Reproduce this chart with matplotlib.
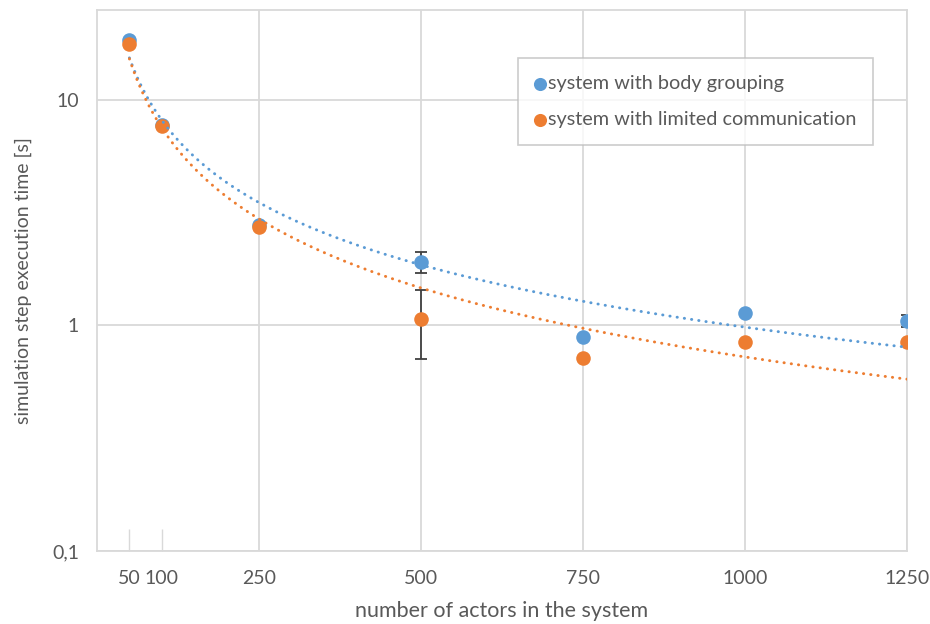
import numpy as np
import matplotlib
matplotlib.use("Agg")
import matplotlib.pyplot as plt
from matplotlib.ticker import FixedLocator, FixedFormatter, NullLocator

plt.rcParams["font.family"] = ["Lato", "DejaVu Sans"]

actors = [50, 100, 250, 500, 750, 1000, 1250]
body_grouping = [18.5, 7.75, 2.8, 1.91, 0.89, 1.14, 1.045]
limited_comm = [17.7, 7.65, 2.74, 1.07, 0.72, 0.84, 0.84]
body_err = [0, 0, 0, 0.2, 0, 0, 0.065]
limited_err = [0, 0, 0, 0.36, 0, 0, 0]

grid_ticks = [250, 500, 750, 1000, 1250]
small_ticks = [50, 100]
y_ticks = [0.1, 1, 10]
y_labels = ["0,1", "1", "10"]

blue = "#5B9BD5"
orange = "#ED7D31"
gray_text = "#595959"
grid_col = "#D9D9D9"

fig = plt.figure(figsize=(9.3, 6.24), dpi=100)
ax = fig.add_axes([97 / 930, 1 - 551 / 624, 810 / 930, 541 / 624])

x = np.array(actors, dtype=float)
for vals, err, col, name in [(body_grouping, body_err, blue, "system with body grouping"),
                             (limited_comm, limited_err, orange, "system with limited communication")]:
    y = np.array(vals)
    e = np.array(err)
    mask = e > 0
    ax.errorbar(x[mask], y[mask], yerr=e[mask], fmt="none", ecolor="#404040",
                elinewidth=1.3, capsize=4, capthick=1.3, zorder=2)
    ax.scatter(x, y, s=110, color=col, zorder=3, label=name, linewidths=0)

# power trendlines (log-log least squares, like Excel)
xs = np.linspace(50, 1250, 400)
for vals, col in [(body_grouping, blue), (limited_comm, orange)]:
    b, a = np.polyfit(np.log(actors), np.log(vals), 1)
    ax.plot(xs, np.exp(a) * xs ** b, color=col, lw=2.1,
            linestyle=(0, (0.1, 2.4)), dash_capstyle="round", zorder=4)

ax.set_yscale("log")
ax.set_ylim(0.1, 25)
ax.set_xlim(0, 1250)

ax.yaxis.set_major_locator(FixedLocator(y_ticks))
ax.yaxis.set_major_formatter(FixedFormatter(y_labels))
ax.yaxis.set_minor_locator(NullLocator())

ax.xaxis.set_major_locator(FixedLocator(grid_ticks))
ax.xaxis.set_major_formatter(FixedFormatter([str(t) for t in grid_ticks]))
ax.xaxis.set_minor_locator(FixedLocator(small_ticks))
ax.xaxis.set_minor_formatter(FixedFormatter([str(t) for t in small_ticks]))

ax.tick_params(axis="x", which="major", length=0, pad=14, labelsize=14, labelcolor=gray_text)
ax.tick_params(axis="x", which="minor", direction="in", length=16, width=1,
               color=grid_col, pad=14, labelsize=14, labelcolor=gray_text)
ax.tick_params(axis="y", length=0, pad=13, labelsize=14, labelcolor=gray_text)

ax.grid(True, which="major", color=grid_col, lw=1.3)
ax.set_axisbelow(True)
for s in ax.spines.values():
    s.set_color(grid_col)
    s.set_linewidth(1.3)

ax.set_xlabel("number of actors in the system", fontsize=15.5, color=gray_text, labelpad=10)
ax.set_ylabel("simulation step execution time [s]", fontsize=14, color=gray_text, labelpad=14)

leg = ax.legend(loc="upper right", bbox_to_anchor=(0.958, 0.911), borderaxespad=0,
                fontsize=14.3, frameon=True, fancybox=False, edgecolor="#BFBFBF",
                handletextpad=0.1, handlelength=0.55, labelspacing=0.95,
                borderpad=0.85, markerscale=0.9, labelcolor=gray_text)
leg.get_frame().set_linewidth(1.2)

fig.savefig("out.png", dpi=100)
